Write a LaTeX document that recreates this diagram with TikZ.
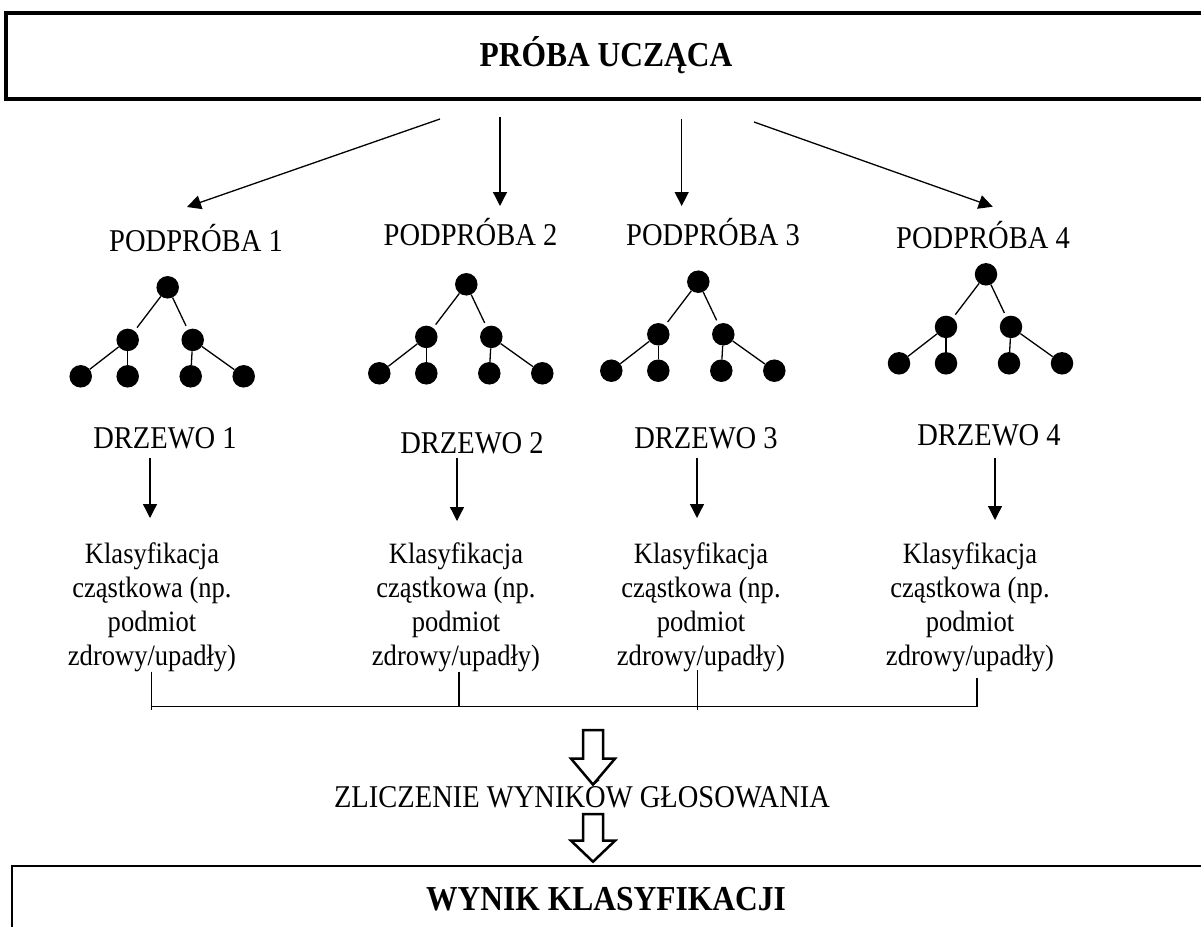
\documentclass[tikz,border=0pt]{standalone}
\usepackage{fontspec}
\setmainfont[FakeStretch=0.9]{Liberation Serif}
\usetikzlibrary{arrows.meta,calc}

% one small binary tree: root #1r, inner nodes #1a/#1b, leaves #1c..#1f
\newcommand{\ensembletree}[3]{%
  \node[dot] (#1r) at (#2,#3) {};
  \node[dot] (#1a) at ($(#2,#3)+(-40,52.6)$) {};
  \node[dot] (#1b) at ($(#2,#3)+(25,52.6)$) {};
  \node[dot] (#1c) at ($(#2,#3)+(-87,89)$) {};
  \node[dot] (#1d) at ($(#2,#3)+(-40,89)$) {};
  \node[dot] (#1e) at ($(#2,#3)+(23,89)$) {};
  \node[dot] (#1f) at ($(#2,#3)+(76,89)$) {};
  \draw[branch, shorten >=4pt] (#1r) -- (#1a);
  \draw[branch, shorten >=4pt] (#1r) -- (#1b);
  \draw[branch] (#1a) -- (#1c);
  \draw[branch] (#1a) -- (#1d);
  \draw[branch] (#1b) -- (#1e);
  \draw[branch] (#1b) -- (#1f);
}

% hollow block arrow pointing down from #1: shaft length #2, head length #3
\newcommand{\hollowdown}[3]{%
  \draw[hollow] (#1) ++(-10,0) -- ++(0,#2) -- ++(-12,0) -- ++(22,#3)
    -- ++(22,-#3) -- ++(-12,0) -- ++(0,-#2) -- cycle;
}

\begin{document}
\begin{tikzpicture}[x=1pt,y=-1pt,
  label1/.style={font=\fontsize{31.7}{36}\selectfont, inner sep=0pt},
  leafnote/.style={font=\fontsize{29.5}{34}\selectfont, align=center, inner sep=0pt},
  heading/.style={font=\fontsize{35}{40}\selectfont\bfseries, inner sep=0pt},
  frame/.style={draw, rectangle, inner sep=0pt},
  arr/.style={line width=1.3pt, -{Triangle[length=14pt,width=14pt]}},
  dot/.style={circle, fill=black, minimum size=22.5pt, inner sep=0pt},
  branch/.style={line width=1.3pt},
  rule/.style={line width=1.3pt},
  hollow/.style={line width=2.5pt, fill=white, line join=miter},
]
\useasboundingbox (0,0) rectangle (1201,926);

% training sample
\node[frame, line width=4pt, minimum width=1200pt, minimum height=86pt] (train) at (606,56) {};
\node[heading, anchor=base] (traintxt) at (606,66) {PRÓBA UCZĄCA};

% subsamples
\node[label1, anchor=base] (p1) at (196,251) {PODPRÓBA 1};
\node[label1, anchor=base] (p2) at (470.5,245) {PODPRÓBA 2};
\node[label1, anchor=base] (p3) at (713,245) {PODPRÓBA 3};
\node[label1, anchor=base] (p4) at (983,248) {PODPRÓBA 4};

% arrows from the training sample to the subsamples
\coordinate (s1) at (440,119);   \coordinate (t1) at (187,207);
\coordinate (s2) at (500,117);   \coordinate (t2) at (500,206);
\coordinate (s3) at (681.7,119); \coordinate (t3) at (681.7,206);
\coordinate (s4) at (754,122);   \coordinate (t4) at (992.7,206.7);
\draw[arr] (s1) -- (t1);
\draw[arr] (s2) -- (t2);
\draw[arr] (s3) -- (t3);
\draw[arr] (s4) -- (t4);

% trees
\ensembletree{ta}{167.7}{287.3}
\ensembletree{tb}{466.3}{284.3}
\ensembletree{tc}{698.3}{281.7}
\ensembletree{td}{986}{274.3}

% tree labels
\node[label1, anchor=base] (dz1) at (165,448) {DRZEWO 1};
\node[label1, anchor=base] (dz2) at (472,453) {DRZEWO 2};
\node[label1, anchor=base] (dz3) at (706,448) {DRZEWO 3};
\node[label1, anchor=base] (dz4) at (989,445) {DRZEWO 4};

% arrows from trees to partial classifications
\coordinate (u1) at (150,458); \coordinate (v1) at (150,518);
\coordinate (u2) at (457,458); \coordinate (v2) at (457,521);
\coordinate (u3) at (697,458); \coordinate (v3) at (697,518);
\coordinate (u4) at (995,458); \coordinate (v4) at (995,520);
\draw[arr] (u1) -- (v1);
\draw[arr] (u2) -- (v2);
\draw[arr] (u3) -- (v3);
\draw[arr] (u4) -- (v4);

% partial classifications
\node[leafnote, anchor=south] (k1) at (152,672) {Klasyfikacja\\cząstkowa (np.\\podmiot\\zdrowy/upadły)};
\node[leafnote, anchor=south] (k2) at (456,672) {Klasyfikacja\\cząstkowa (np.\\podmiot\\zdrowy/upadły)};
\node[leafnote, anchor=south] (k3) at (701,672) {Klasyfikacja\\cząstkowa (np.\\podmiot\\zdrowy/upadły)};
\node[leafnote, anchor=south] (k4) at (970,672) {Klasyfikacja\\cząstkowa (np.\\podmiot\\zdrowy/upadły)};

% bracket collecting the votes
\coordinate (b1) at (151.7,671.7);
\coordinate (b2) at (459,671.7);
\coordinate (b3) at (697.3,670);
\coordinate (b4) at (977,678.3);
\coordinate (bar) at (0,706.5);
\draw[rule] (b1) -- ($(b1 |- bar)+(0,3)$);
\draw[rule] (b2) -- (b2 |- bar);
\draw[rule] (b3) -- ($(b3 |- bar)+(0,3.5)$);
\draw[rule] (b4) -- (b4 |- bar);
\draw[rule] (b1 |- bar) -- (b4 |- bar);

% vote counting
\coordinate (h1) at (593,730);
\hollowdown{h1}{28.6}{26}
\node[label1, anchor=base] (count) at (582,807) {ZLICZENIE WYNIKÓW GŁOSOWANIA};
\coordinate (h2) at (593,814);
\hollowdown{h2}{26.7}{21}

% final result
\node[frame, line width=2.5pt, minimum width=1200pt, minimum height=100pt] (result) at (612,916) {};
\node[heading, anchor=base] (resulttxt) at (606,910) {WYNIK KLASYFIKACJI};
\end{tikzpicture}
\end{document}
